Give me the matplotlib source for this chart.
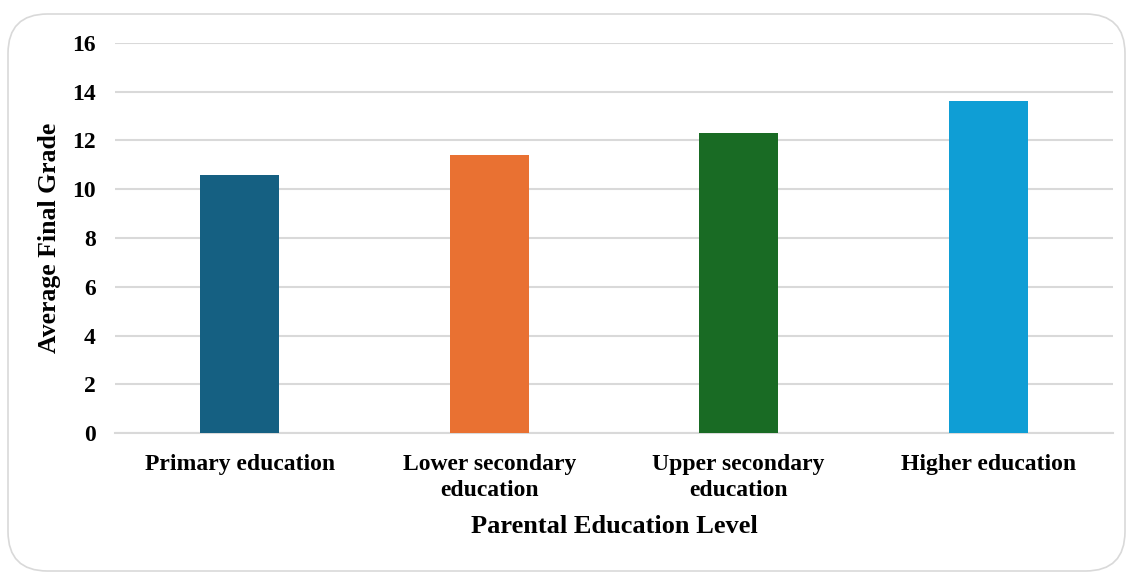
import matplotlib.pyplot as plt
from matplotlib.patches import FancyBboxPatch

# Average final grade by parental education level
levels = ["Primary education", "Lower secondary\neducation",
          "Upper secondary\neducation", "Higher education"]
avg_grade = [10.6, 11.4, 12.3, 13.6]
bar_colors = ["#156082", "#E97132", "#196B24", "#0F9ED5"]
y_ticks = [0, 2, 4, 6, 8, 10, 12, 14, 16]

plt.rcParams["font.family"] = ["Liberation Serif", "DejaVu Serif"]
plt.rcParams["font.weight"] = "bold"

fig = plt.figure(figsize=(11.29, 5.73), dpi=100)
ax = fig.add_axes([0.1019, 0.2443, 0.8839, 0.6807])

# Rounded frame around the whole chart
frame = FancyBboxPatch((8 / 1129, 2 / 573), 1117 / 1129, 557 / 573,
                       boxstyle="round,pad=0,rounding_size=0.035",
                       transform=fig.transFigure, facecolor="none",
                       edgecolor="#d9d9d9", linewidth=1.2,
                       mutation_aspect=1129 / 573, clip_on=False)
fig.patches.append(frame)

x = range(len(levels))
ax.bar(x, avg_grade, width=0.317, color=bar_colors, zorder=3)

ax.set_xlim(-0.5, 3.5)
ax.set_ylim(0, 16)
ax.set_yticks(y_ticks)
ax.set_xticks(list(x))
ax.set_xticklabels(levels, fontsize=17, fontweight="bold", linespacing=1.35)
ax.tick_params(axis="y", labelsize=17, length=0, pad=14)
ax.tick_params(axis="x", length=0, pad=15)
for lbl in ax.get_yticklabels():
    lbl.set_fontweight("bold")

ax.grid(axis="y", color="#d9d9d9", linewidth=1.5, zorder=0)
for side in ["top", "right", "left"]:
    ax.spines[side].set_visible(False)
ax.spines["bottom"].set_color("#d9d9d9")
ax.spines["bottom"].set_linewidth(1.5)

ax.set_xlabel("Parental Education Level", fontsize=19, fontweight="bold", va="center")
ax.set_ylabel("Average Final Grade", fontsize=18.5, fontweight="bold", va="center")
ax.xaxis.set_label_coords(0.5, (433 - 526) / 390)
ax.yaxis.set_label_coords((49 - 115) / 998, 0.5)

fig.savefig("out.png", dpi=100)
